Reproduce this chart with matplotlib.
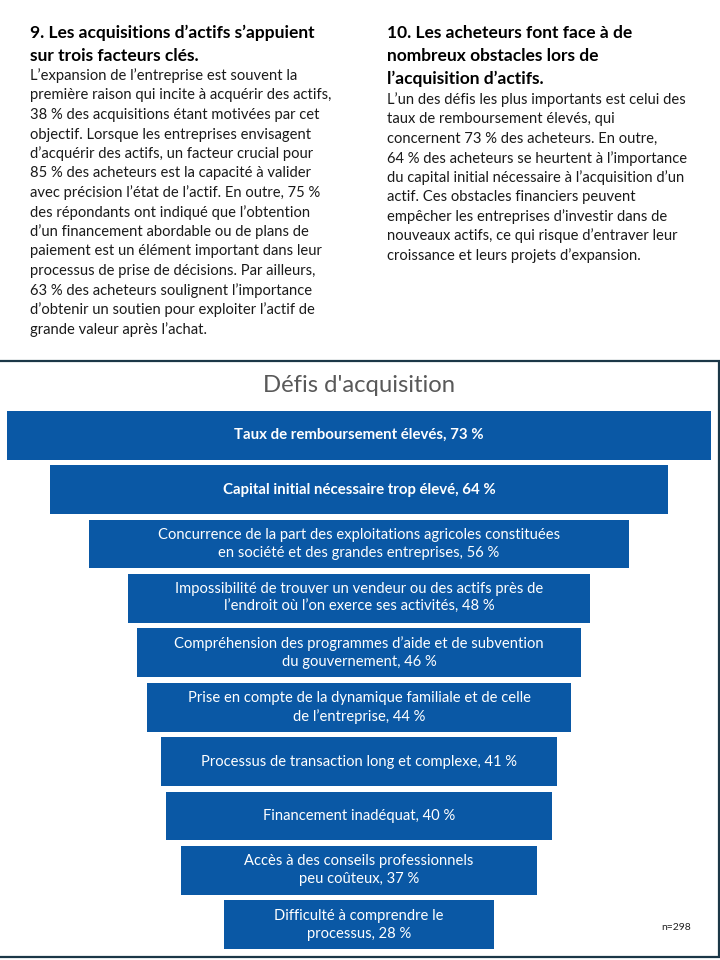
import matplotlib
matplotlib.use("Agg")
import matplotlib.pyplot as plt
from matplotlib.patches import Rectangle

FONT = ["Lato", "DejaVu Sans"]
plt.rcParams["font.family"] = FONT

# ---------------- data ----------------
categories = [
    "Taux de remboursement élevés",
    "Capital initial nécessaire trop élevé",
    "Concurrence de la part des exploitations agricoles constituées\nen société et des grandes entreprises",
    "Impossibilité de trouver un vendeur ou des actifs près de\nl’endroit où l’on exerce ses activités",
    "Compréhension des programmes d’aide et de subvention\ndu gouvernement",
    "Prise en compte de la dynamique familiale et de celle\nde l’entreprise",
    "Processus de transaction long et complexe",
    "Financement inadéquat",
    "Accès à des conseils professionnels\npeu coûteux",
    "Difficulté à comprendre le\nprocessus",
]
values = [73, 64, 56, 48, 46, 44, 41, 40, 37, 28]
bold_flags = [True, True, False, False, False, False, False, False, False, False]
chart_title = "Défis d'acquisition"
sample_note = "n=298"

left_heading = ["9. Les acquisitions d’actifs s’appuient", "sur trois facteurs clés."]
left_body = [
    "L’expansion de l’entreprise est souvent la",
    "première raison qui incite à acquérir des actifs,",
    "38 % des acquisitions étant motivées par cet",
    "objectif. Lorsque les entreprises envisagent",
    "d’acquérir des actifs, un facteur crucial pour",
    "85 % des acheteurs est la capacité à valider",
    "avec précision l’état de l’actif. En outre, 75 %",
    "des répondants ont indiqué que l’obtention",
    "d’un financement abordable ou de plans de",
    "paiement est un élément important dans leur",
    "processus de prise de décisions. Par ailleurs,",
    "63 % des acheteurs soulignent l’importance",
    "d’obtenir un soutien pour exploiter l’actif de",
    "grande valeur après l’achat.",
]
right_heading = ["10. Les acheteurs font face à de", "nombreux obstacles lors de", "l’acquisition d’actifs."]
right_body = [
    "L’un des défis les plus importants est celui des",
    "taux de remboursement élevés, qui",
    "concernent 73 % des acheteurs. En outre,",
    "64 % des acheteurs se heurtent à l’importance",
    "du capital initial nécessaire à l’acquisition d’un",
    "actif. Ces obstacles financiers peuvent",
    "empêcher les entreprises d’investir dans de",
    "nouveaux actifs, ce qui risque d’entraver leur",
    "croissance et leurs projets d’expansion.",
]

# ---------------- figure ----------------
W, H = 720, 960
fig = plt.figure(figsize=(W / 100, H / 100), dpi=100)
fig.patch.set_facecolor("white")


def fx(px):
    return px / W


def fy(py):
    return 1 - py / H


TEXT_COLOR = "#1a1a1a"
HEAD_SIZE = 12.5
BODY_SIZE = 10.65

# left column
for i, line in enumerate(left_heading):
    fig.text(fx(30), fy(33 + i * 23), line, fontsize=HEAD_SIZE, fontweight="bold",
             color="black", va="center", ha="left")
for i, line in enumerate(left_body):
    fig.text(fx(30), fy(76 + i * 19.5), line, fontsize=BODY_SIZE,
             color=TEXT_COLOR, va="center", ha="left")

# right column
for i, line in enumerate(right_heading):
    fig.text(fx(387), fy(33 + i * 23), line, fontsize=HEAD_SIZE, fontweight="bold",
             color="black", va="center", ha="left")
for i, line in enumerate(right_body):
    fig.text(fx(387), fy(100 + i * 19.4), line, fontsize=BODY_SIZE,
             color=TEXT_COLOR, va="center", ha="left")

# chart frame
frame = Rectangle((fx(-2), fy(957)), fx(721), (957 - 361) / H, transform=fig.transFigure,
                  fill=False, edgecolor="#1b3747", linewidth=1.6)
fig.patches.append(frame)

fig.text(fx(359), fy(385), chart_title, fontsize=17.2, color="#595959",
         ha="center", va="center")

# funnel bars
scale = 704 / 73.0  # px per percent
center_px = 359
ax_top, ax_bot = 408, 952
ax = fig.add_axes([0, fy(ax_bot), 1, (ax_bot - ax_top) / H])
ax.set_xlim(-center_px / scale, (W - center_px) / scale)
ax.set_ylim(len(values) - 0.5, -0.5)
ax.axis("off")
ypos = list(range(len(values)))
lefts = [-v / 2 for v in values]
ax.barh(ypos, values, left=lefts, height=0.9, color="#0A58A5", edgecolor="none")
for y, cat, v, b in zip(ypos, categories, values, bold_flags):
    ax.text(0, y, f"{cat}, {v} %", ha="center", va="center", color="white",
            fontsize=10.6 if not b else 10.8, fontweight="bold" if b else "normal",
            linespacing=1.35)

fig.text(fx(676), fy(928), sample_note, fontsize=7.5, color="#222222",
         ha="center", va="center")

fig.savefig("out.png", dpi=100, facecolor="white")
